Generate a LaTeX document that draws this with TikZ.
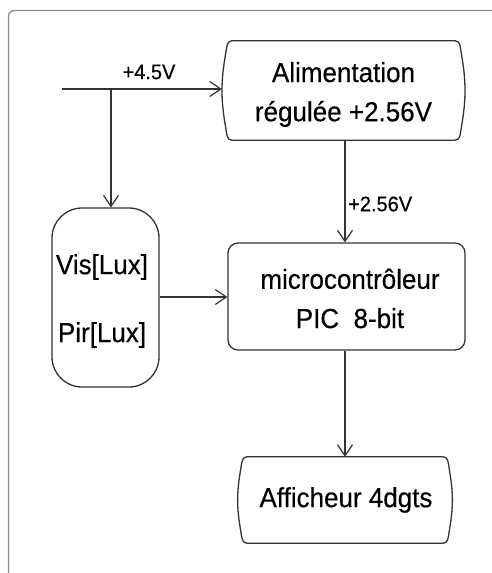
\documentclass[tikz,border=0pt]{standalone}
\usepackage{fontspec}
\setmainfont{Liberation Sans}[FakeBold=0.35]
\usetikzlibrary{arrows.meta,calc}
\tikzset{
  boxline/.style={draw=black!80, line width=1.3pt},
  conn/.style={draw=black!80, line width=1.3pt, -{Straight Barb[length=11pt,width=15pt,line width=1.2pt]}},
  boxtext/.style={font=\fontsize{26}{37}\selectfont, align=center, inner sep=0pt, yscale=1.06, transform shape},
  lbl/.style={font=\fontsize{20}{24}\selectfont, inner sep=0pt, yscale=1.06, transform shape}
}
\newcommand\tapebox[1]{%
  \draw[boxline] ($(#1.north west)+(10,0)$) -- ($(#1.north east)+(-10,0)$)
    to[out=0,in=100] ($(#1.north east)+(-4,12)$)
    to[out=-80,in=80] ($(#1.south east)+(-4,-12)$)
    to[out=-100,in=0] ($(#1.south east)+(-10,0)$)
    -- ($(#1.south west)+(10,0)$)
    to[out=180,in=-80] ($(#1.south west)+(4,-12)$)
    to[out=100,in=-100] ($(#1.north west)+(4,12)$)
    to[out=80,in=180] ($(#1.north west)+(10,0)$) -- cycle;}
\begin{document}
\begin{tikzpicture}[x=1pt,y=-1pt]
\useasboundingbox (0,0) rectangle (492,573);
\fill[white] (0,0) rectangle (492,573);
\begin{scope}
\clip (0,0) rectangle (492,573);
\draw[black!45, line width=1.3pt, rounded corners=6pt] (8.5,620) -- (8.5,10.5) -- (540,10.5);
\end{scope}
% nodes
\node[minimum width=243pt, minimum height=99pt, inner sep=0pt] (alim) at (343.5,90.5) {};
\node[boxtext] (alimtxt) at (343.5,94.5) {Alimentation\\régulée +2.56V};
\node[boxline, rounded corners=30pt, minimum width=107pt, minimum height=179pt, inner sep=0pt] (cap) at (105.5,297.5) {};
\node[boxtext] (vis) at (102,267) {Vis[Lux]};
\node[boxtext] (pir) at (102,335) {Pir[Lux]};
\node[boxline, rounded corners=10pt, minimum width=237pt, minimum height=107pt, inner sep=0pt] (mcu) at (346.5,296.5) {};
\node[boxtext] (mcutxt) at (350,298.5) {microcontrôleur\\PIC\ \ 8-bit};
\node[minimum width=216pt, minimum height=86pt, inner sep=0pt] (aff) at (345,500) {};
\node[boxtext] (afftxt) at (346,500) {Afficheur 4dgts};
\tapebox{alim}
\tapebox{aff}
% connectors
\coordinate (in) at (62,89);
\coordinate (br) at (111,89);
\draw[conn] (in) -- (in -| alim.west);
\draw[conn] (br) -- (br |- cap.north);
\draw[conn] (cap.east |- 0,297) -- (mcu.west |- 0,297);
\draw[conn] (alim.south -| 345,0) -- (mcu.north -| 345,0);
\draw[conn] (mcu.south -| 345,0) -- (aff.north -| 345,0);
% labels
\node[lbl] (v45) at (149,72) {+4.5V};
\node[lbl, anchor=west] (v256) at (348,204) {+2.56V};
\end{tikzpicture}
\end{document}
